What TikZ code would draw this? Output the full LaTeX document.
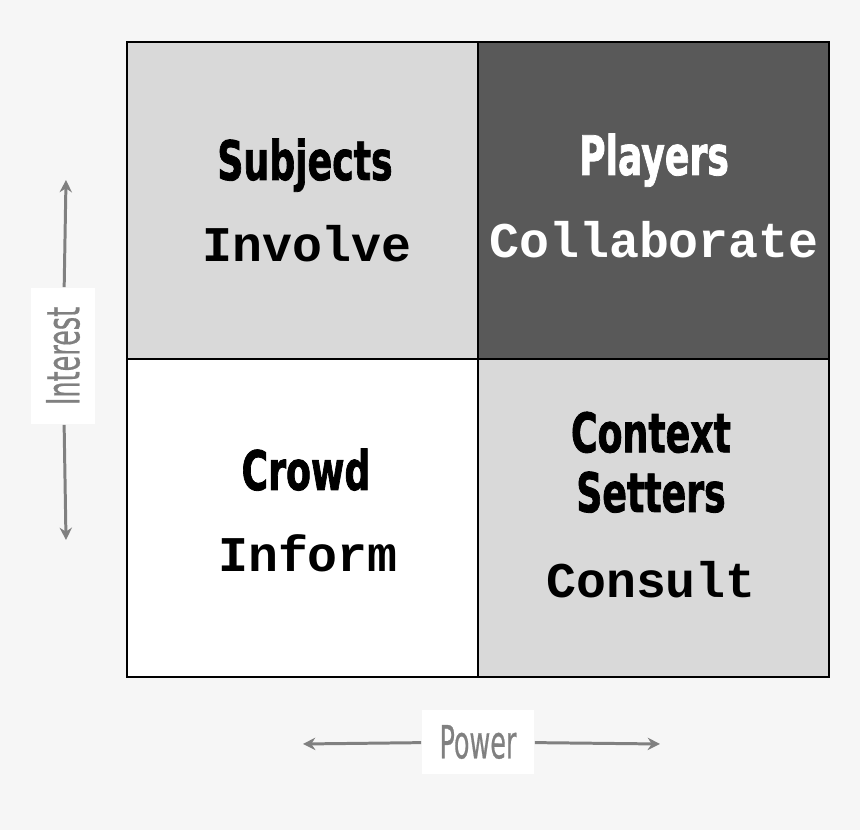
\documentclass[tikz,border=0pt]{standalone}
\usepackage{fontspec}
\setmonofont{Liberation Mono}
\newfontfamily\headfont[FakeBold=1.6]{DejaVu Sans Condensed Bold}
\newfontfamily\axisfont[FakeBold=0.6]{DejaVu Sans Condensed}
\usetikzlibrary{arrows.meta,positioning}

\definecolor{pagegray}{HTML}{F6F6F6}
\definecolor{lightcell}{HTML}{D9D9D9}
\definecolor{darkcell}{HTML}{595959}
\definecolor{axisgray}{HTML}{808080}

% squeeze the heavy headings sideways
\newcommand{\narrowhead}[1]{\scalebox{0.74}[1]{#1}}
\newcommand{\narrowaxis}[1]{\scalebox{0.62}[1]{#1}}

\begin{document}
\begin{tikzpicture}[
    x=0.02cm, y=-0.02cm,
    head/.style={font=\headfont\fontsize{31}{34}\selectfont, anchor=base, align=center},
    action/.style={font=\ttfamily\bfseries\fontsize{28.4}{30}\selectfont, anchor=base},
    axislabel/.style={fill=white, text=axisgray, font=\axisfont\fontsize{26}{28}\selectfont,
        inner sep=0pt, minimum height=1.28cm},
    axisarrow/.style={-{Stealth[length=7pt,width=7pt]}, draw=axisgray, line width=1.7pt}
]

% Page
\fill[pagegray] (0,0) rectangle (860,830);
\useasboundingbox (0,0) rectangle (860,830);

% Quadrants
\fill[lightcell] (127,42) rectangle (478,359);
\fill[darkcell] (478,42) rectangle (829,359);
\fill[white] (127,359) rectangle (478,677);
\fill[lightcell] (478,359) rectangle (829,677);
\draw[line width=1.1pt] (127,42) rectangle (829,677);
\draw[line width=1.1pt] (478,42) -- (478,677);
\draw[line width=1.1pt] (127,359) -- (829,359);

% Top left
\node[head] (subjects) at (305,180) {\narrowhead{Subjects}};
\node[action] (involve) at (307,262) {Involve};

% Top right
\node[head, text=white] (players) at (654,175) {\narrowhead{Players}};
\node[action, text=white] (collaborate) at (654,258) {Collaborate};

% Bottom left
\node[head] (crowd) at (306,490) {\narrowhead{Crowd}};
\node[action] (inform) at (308,572) {Inform};

% Bottom right (base sits on the last line)
\node[head] (setters) at (651,512) {\narrowhead{Context}\\\narrowhead{Setters}};
\node[action] (consult) at (651,598) {Consult};

% Axes
\node[axislabel, rotate=90, minimum width=2.74cm] (interest) at (63,356) {\narrowaxis{Interest}};
\coordinate (intop) at (66,180);
\coordinate (inbottom) at (66,540);
\draw[axisarrow] (interest) -- (intop);
\draw[axisarrow] (interest) -- (inbottom);

\node[axislabel, minimum width=2.26cm] (power) at (478,742) {\narrowaxis{Power}};
\coordinate (powleft) at (303,744);
\coordinate (powright) at (660,744);
\draw[axisarrow] (power) -- (powleft);
\draw[axisarrow] (power) -- (powright);

\end{tikzpicture}
\end{document}
